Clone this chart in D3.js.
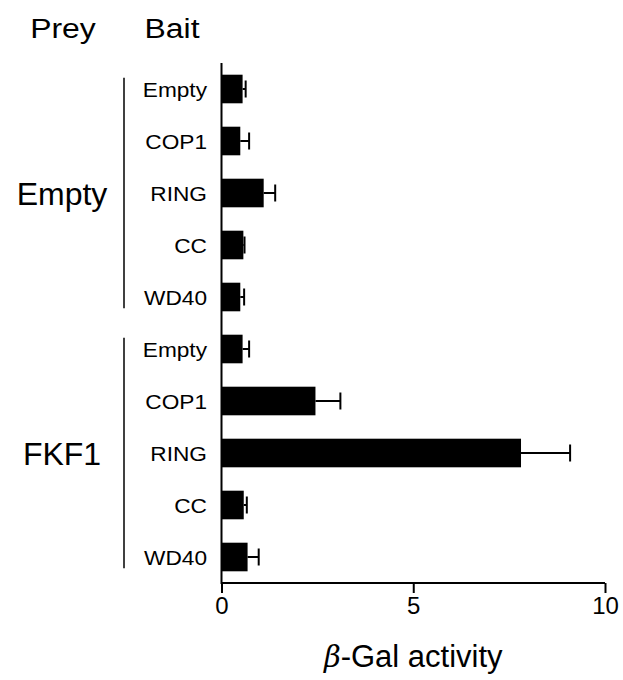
<!DOCTYPE html>
<html>
<head>
<meta charset="utf-8">
<script src="https://cdn.jsdelivr.net/npm/d3@7"></script>
<style>
  html, body { margin: 0; padding: 0; background: #fff; }
  svg { display: block; font-family: "Liberation Sans", Arial, sans-serif; }
</style>
</head>
<body>
<svg id="chart" width="623" height="680"></svg>
<script>
// Yeast two-hybrid β-Gal activity: prey groups × bait constructs
const preyGroups = ["Empty", "FKF1"];
const baits = ["Empty", "COP1", "RING", "CC", "WD40"];
const emptyPreyMeans = [0.55, 0.49, 1.10, 0.57, 0.49];
const emptyPreyErrors = [0.08, 0.23, 0.30, 0.03, 0.10];
const fkf1PreyMeans = [0.55, 2.45, 7.81, 0.58, 0.68];
const fkf1PreyErrors = [0.17, 0.65, 1.28, 0.08, 0.29];
const xTicks = [0, 5, 10];

const rows = [];
[emptyPreyMeans, fkf1PreyMeans].forEach((means, g) => {
  const errs = g === 0 ? emptyPreyErrors : fkf1PreyErrors;
  baits.forEach((b, i) => rows.push({ key: g + "-" + b, prey: preyGroups[g], group: g, bait: b, mean: means[i], err: errs[i] }));
});

const svg = d3.select("#chart");
const x0 = 221.5, x1 = 605, yTop = 63, yBottom = 583;

const x = d3.scaleLinear().domain([0, 10]).range([x0, x1]);
const y = d3.scaleBand().domain(rows.map(d => d.key)).range([yTop, yBottom])
  .paddingInner(0.45).paddingOuter(0.225);

// bars
svg.append("g").selectAll("rect").data(rows).join("rect")
  .attr("x", x(0))
  .attr("y", d => y(d.key))
  .attr("width", d => x(d.mean) - x(0))
  .attr("height", y.bandwidth())
  .attr("fill", "#000");

// error bars
const eb = svg.append("g").attr("stroke", "#000").attr("stroke-width", 2).attr("fill", "none");
rows.forEach(d => {
  const cy = y(d.key) + y.bandwidth() / 2;
  eb.append("line").attr("x1", x(d.mean)).attr("x2", x(d.mean + d.err)).attr("y1", cy).attr("y2", cy);
  eb.append("line").attr("x1", x(d.mean + d.err)).attr("x2", x(d.mean + d.err)).attr("y1", cy - 8.5).attr("y2", cy + 8.5);
});

// value axis
const xAxis = d3.axisBottom(x).tickValues(xTicks).tickFormat(d3.format("d")).tickSize(10).tickSizeOuter(0);
const gx = svg.append("g").attr("transform", `translate(0,${yBottom})`).call(xAxis);
gx.select(".domain").attr("stroke", "#000").attr("stroke-width", 2).attr("d", `M${x0},0H${x1}`);
gx.selectAll(".tick line").attr("stroke", "#000").attr("stroke-width", 2);
gx.selectAll(".tick text").attr("fill", "#000").attr("font-size", 24).attr("font-family", "Liberation Sans, Arial, sans-serif").attr("y", 14).attr("dy", "0.71em");

// category axis line
svg.append("line").attr("x1", x0).attr("x2", x0).attr("y1", yTop).attr("y2", yBottom + 1)
  .attr("stroke", "#000").attr("stroke-width", 2);

// bait labels (set slightly wide)
svg.append("g").selectAll("text").data(rows).join("text")
  .attr("transform", d => `translate(${207},${y(d.key) + y.bandwidth() / 2 + 7.5}) scale(1.08,1)`)
  .attr("text-anchor", "end")
  .attr("font-size", 21)
  .attr("fill", "#000")
  .text(d => d.bait);

// prey group brackets and labels
preyGroups.forEach((p, g) => {
  const keys = rows.filter(r => r.group === g).map(r => r.key);
  const top = y(keys[0]) + 3;
  const bot = y(keys[keys.length - 1]) + y.bandwidth() - 3;
  svg.append("line").attr("x1", 124).attr("x2", 124).attr("y1", top).attr("y2", bot)
    .attr("stroke", "#000").attr("stroke-width", 1.5);
  const mid = y(keys[2]) + y.bandwidth() / 2;
  svg.append("text")
    .attr("x", 62).attr("y", mid + 11.5)
    .attr("text-anchor", "middle")
    .attr("font-size", 32)
    .attr("fill", "#000")
    .text(p);
});

// column headers
[["Prey", 63], ["Bait", 172]].forEach(([t, cx]) => {
  svg.append("text")
    .attr("transform", `translate(${cx},38) scale(1.14,1)`)
    .attr("text-anchor", "middle")
    .attr("font-size", 28)
    .attr("fill", "#000")
    .text(t);
});

// axis title
const title = svg.append("text")
  .attr("x", (x0 + x1) / 2).attr("y", 667)
  .attr("text-anchor", "middle")
  .attr("font-size", 31)
  .attr("fill", "#000");
title.append("tspan").attr("font-style", "italic").attr("font-family", "DejaVu Serif, serif").attr("font-size", 29).text("β");
title.append("tspan").text("-Gal activity");
</script>
</body>
</html>
